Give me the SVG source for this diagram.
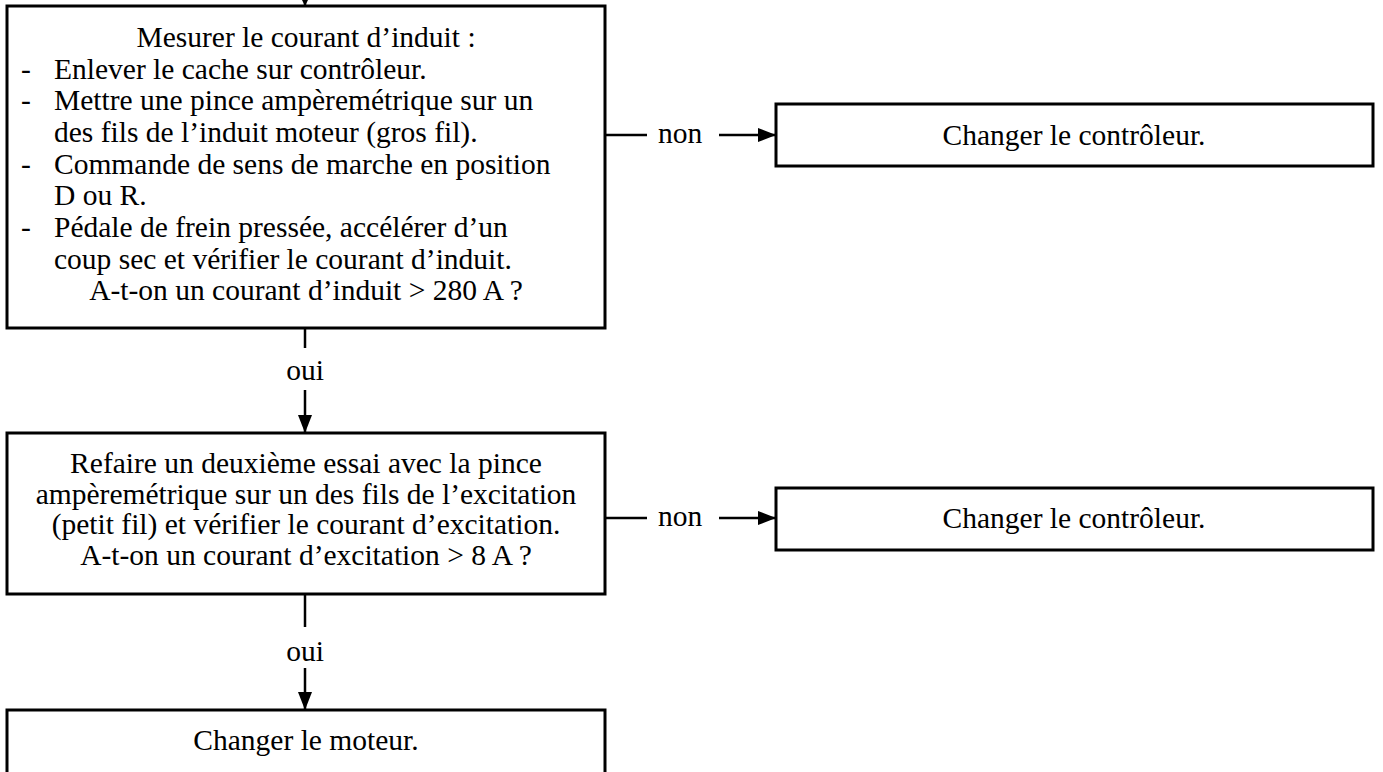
<svg xmlns="http://www.w3.org/2000/svg" width="1383" height="772" viewBox="0 0 1383 772">
<style>
.box{fill:#fff;stroke:#000;stroke-width:3}
.t{font-family:"Liberation Serif","Times New Roman",serif;font-size:29.5px;fill:#000}
.c{text-anchor:middle}
.ln{stroke:#000;stroke-width:2.5;fill:none}
</style>
<defs>
<marker id="ah" viewBox="0 0 10 10" refX="10" refY="5" markerWidth="8" markerHeight="8" markerUnits="userSpaceOnUse" orient="auto">
<path d="M0,0 L10,5 L0,10 z" fill="#000"/>
</marker>
<marker id="ah2" viewBox="0 0 18 14" refX="18" refY="7" markerWidth="18" markerHeight="14" markerUnits="userSpaceOnUse" orient="auto">
<path d="M0,0 L18,7 L0,14 z" fill="#000"/>
</marker>
</defs>
<g id="connectors">
<line class="ln" x1="305" y1="-10" x2="305" y2="6" marker-end="url(#ah)"/>
<line class="ln" x1="305" y1="328" x2="305" y2="348"/>
<text class="t c" x="305" y="380">oui</text>
<line class="ln" x1="305" y1="390" x2="305" y2="433" marker-end="url(#ah2)"/>
<line class="ln" x1="305" y1="594" x2="305" y2="627"/>
<text class="t c" x="305" y="661">oui</text>
<line class="ln" x1="305" y1="668" x2="305" y2="710" marker-end="url(#ah2)"/>
<line class="ln" x1="605" y1="135" x2="647" y2="135"/>
<text class="t c" x="680" y="143">non</text>
<line class="ln" x1="719" y1="135" x2="776" y2="135" marker-end="url(#ah2)"/>
<line class="ln" x1="605" y1="518" x2="647" y2="518"/>
<text class="t c" x="680" y="526">non</text>
<line class="ln" x1="719" y1="518" x2="776" y2="518" marker-end="url(#ah2)"/>
</g>
<g id="n1">
<rect class="box" x="7" y="6" width="598" height="322"/>
<text class="t c" x="306" y="47">Mesurer le courant d’induit :</text>
<text class="t" x="21" y="79">-</text><text class="t" x="54" y="79">Enlever le cache sur contrôleur.</text>
<text class="t" x="21" y="110">-</text><text class="t" x="54" y="110">Mettre une pince ampèremétrique sur un</text>
<text class="t" x="54" y="142">des fils de l’induit moteur (gros fil).</text>
<text class="t" x="21" y="173.5">-</text><text class="t" x="54" y="173.5">Commande de sens de marche en position</text>
<text class="t" x="54" y="205">D ou R.</text>
<text class="t" x="21" y="237">-</text><text class="t" x="54" y="237">Pédale de frein pressée, accélérer d’un</text>
<text class="t" x="54" y="268.5">coup sec et vérifier le courant d’induit.</text>
<text class="t c" x="306" y="300">A-t-on un courant d’induit &gt; 280 A ?</text>
</g>
<g id="n2">
<rect class="box" x="776" y="104" width="597" height="62"/>
<text class="t c" x="1074" y="145">Changer le contrôleur.</text>
</g>
<g id="n3">
<rect class="box" x="7" y="433" width="598" height="161"/>
<text class="t c" x="306" y="473">Refaire un deuxième essai avec la pince</text>
<text class="t c" x="306" y="503.5">ampèremétrique sur un des fils de l’excitation</text>
<text class="t c" x="306" y="534">(petit fil) et vérifier le courant d’excitation.</text>
<text class="t c" x="306" y="564.5">A-t-on un courant d’excitation &gt; 8 A ?</text>
</g>
<g id="n4">
<rect class="box" x="776" y="488" width="597" height="62"/>
<text class="t c" x="1074" y="528">Changer le contrôleur.</text>
</g>
<g id="n5">
<rect class="box" x="7" y="710" width="598" height="80"/>
<text class="t c" x="306" y="750">Changer le moteur.</text>
</g>
</svg>
